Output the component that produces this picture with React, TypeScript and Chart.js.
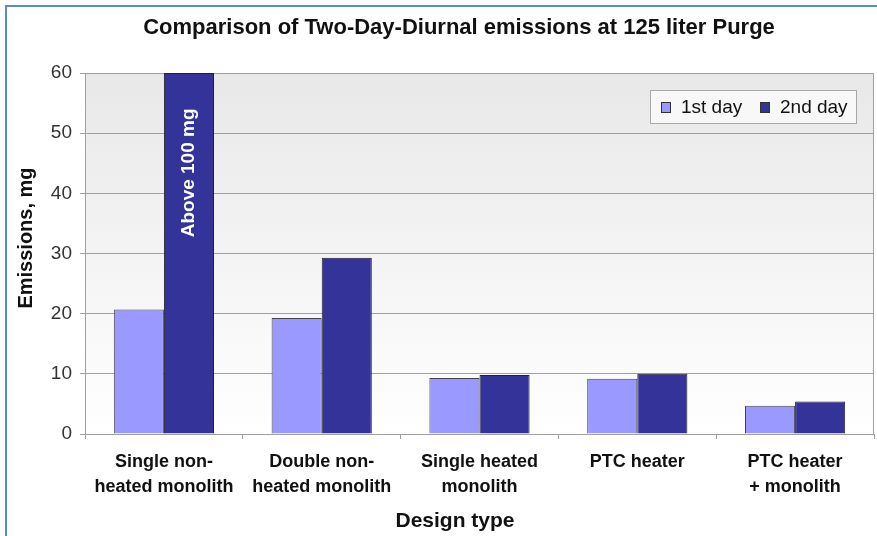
import React, { useEffect, useRef } from "react";
import { Chart, registerables } from "chart.js";

Chart.register(...registerables);

const categories: string[][] = [
  ["Single non-", "heated monolith"],
  ["Double non-", "heated monolith"],
  ["Single heated", "monolith"],
  ["PTC heater"],
  ["PTC heater", "+ monolith"],
];
const seriesNames = ["1st day", "2nd day"];
const firstDay = [20.7, 19.3, 9.3, 9.2, 4.7];
// first 2nd-day value is off the scale (above 100 mg); drawn capped at the axis maximum
const secondDay = [60, 29.3, 9.8, 10.0, 5.4];
const yTicksMin = 0;
const yTicksMax = 60;
const yTickStep = 10;
const titleText = "Comparison of Two-Day-Diurnal emissions at 125 liter Purge";
const yTitle = "Emissions, mg";
const xTitle = "Design type";
const noteText = "Above 100 mg";
const noteValue = 43.4;

const FONT = "'Liberation Sans', Arial, sans-serif";
const C1 = "#9999ff";
const C2 = "#333399";

const decorPlugin = {
  id: "decor",
  beforeDraw(chart: any) {
    const { ctx, chartArea } = chart;
    const g = ctx.createLinearGradient(0, chartArea.top, 0, chartArea.bottom);
    g.addColorStop(0, "#e8e8e8");
    g.addColorStop(1, "#ffffff");
    ctx.save();
    ctx.fillStyle = g;
    ctx.fillRect(chartArea.left, chartArea.top, chartArea.right - chartArea.left, chartArea.bottom - chartArea.top);
    ctx.restore();
  },
  afterDraw(chart: any) {
    const { ctx, chartArea } = chart;
    ctx.save();
    // right plot edge
    ctx.strokeStyle = "#a0a0a0";
    ctx.lineWidth = 1;
    ctx.beginPath();
    ctx.moveTo(chartArea.right - 0.5, chartArea.top);
    ctx.lineTo(chartArea.right - 0.5, chartArea.bottom);
    ctx.stroke();

    // title
    ctx.fillStyle = "#111";
    ctx.textAlign = "center";
    ctx.textBaseline = "middle";
    ctx.font = `bold 22px ${FONT}`;
    ctx.fillText(titleText, 459, 28);

    // x title
    ctx.font = `bold 21px ${FONT}`;
    ctx.fillText(xTitle, 455, 521);

    // y title
    ctx.save();
    ctx.translate(26, 238);
    ctx.rotate(-Math.PI / 2);
    ctx.font = `bold 20px ${FONT}`;
    ctx.fillText(yTitle, 0, 0);
    ctx.restore();

    // note inside the clipped bar
    const meta = chart.getDatasetMeta(1);
    const bar = meta.data[0];
    const y = chart.scales.y.getPixelForValue(noteValue);
    ctx.save();
    ctx.translate(bar.x, y);
    ctx.rotate(-Math.PI / 2);
    ctx.fillStyle = "#ffffff";
    ctx.font = `bold 19px ${FONT}`;
    ctx.fillText(noteText, 0, 0);
    ctx.restore();

    // legend
    const lx = 650, ly = 90, lw = 207, lh = 34;
    ctx.fillStyle = "#f8f8f8";
    ctx.fillRect(lx, ly, lw, lh);
    ctx.strokeStyle = "#a8a8a8";
    ctx.strokeRect(lx + 0.5, ly + 0.5, lw - 1, lh - 1);
    const items = [
      { x: 661, color: C1, label: seriesNames[0] },
      { x: 760, color: C2, label: seriesNames[1] },
    ];
    ctx.font = `19px ${FONT}`;
    ctx.textAlign = "left";
    for (const it of items) {
      ctx.fillStyle = it.color;
      ctx.fillRect(it.x, 102, 10, 11);
      ctx.strokeStyle = "#333";
      ctx.strokeRect(it.x + 0.5, 102.5, 9, 10);
      ctx.fillStyle = "#111";
      ctx.fillText(it.label, it.x + 20, 108);
    }
    ctx.restore();
  },
};

export default function App() {
  const ref = useRef<HTMLCanvasElement>(null);
  useEffect(() => {
    document.body.style.margin = "0";
    const chart = new Chart(ref.current!, {
      type: "bar",
      data: {
        labels: categories,
        datasets: [
          {
            label: seriesNames[0],
            data: firstDay,
            backgroundColor: C1,
            borderColor: "#444",
            borderWidth: 1,
            categoryPercentage: 0.635,
            barPercentage: 1.0,
          },
          {
            label: seriesNames[1],
            data: secondDay,
            backgroundColor: C2,
            borderColor: "#222",
            borderWidth: 1,
            categoryPercentage: 0.635,
            barPercentage: 1.0,
          },
        ],
      },
      options: {
        animation: false,
        responsive: true,
        maintainAspectRatio: false,
        layout: { padding: { left: 0, right: 3, top: 73, bottom: 0 } },
        plugins: {
          legend: { display: false },
          title: { display: false },
          tooltip: { enabled: false },
        },
        scales: {
          x: {
            offset: true,
            grid: { drawOnChartArea: false, drawTicks: true, tickLength: 5, color: "#a0a0a0" },
            border: { display: true, color: "#a0a0a0" },
            ticks: {
              autoSkip: false,
              maxRotation: 0,
              minRotation: 0,
              padding: 11,
              color: "#111",
              font: { family: FONT, size: 18, weight: "bold", lineHeight: 1.39 },
            },
            afterFit: (s: any) => {
              s.height = 102;
            },
          },
          y: {
            min: yTicksMin,
            max: yTicksMax,
            grid: { color: "#a0a0a0", tickLength: 5 },
            border: { display: true, color: "#a0a0a0" },
            ticks: {
              stepSize: yTickStep,
              padding: 8,
              color: "#333",
              font: { family: FONT, size: 19 },
            },
            afterFit: (s: any) => {
              s.width = 85;
            },
          },
        },
      },
      plugins: [decorPlugin],
    });
    return () => chart.destroy();
  }, []);
  return (
    <div style={{ position: "absolute", left: 0, top: 0, width: 877, height: 536, background: "#fff" }}>
      <div style={{ position: "absolute", left: 5, top: 5, right: 0, height: 2, background: "#5a8acb" }} />
      <div style={{ position: "absolute", left: 5, top: 5, bottom: 0, width: 2, background: "#5a8acb" }} />
      <div style={{ position: "absolute", left: 0, top: 0, width: 877, height: 536 }}>
        <canvas ref={ref} />
      </div>
    </div>
  );
}
